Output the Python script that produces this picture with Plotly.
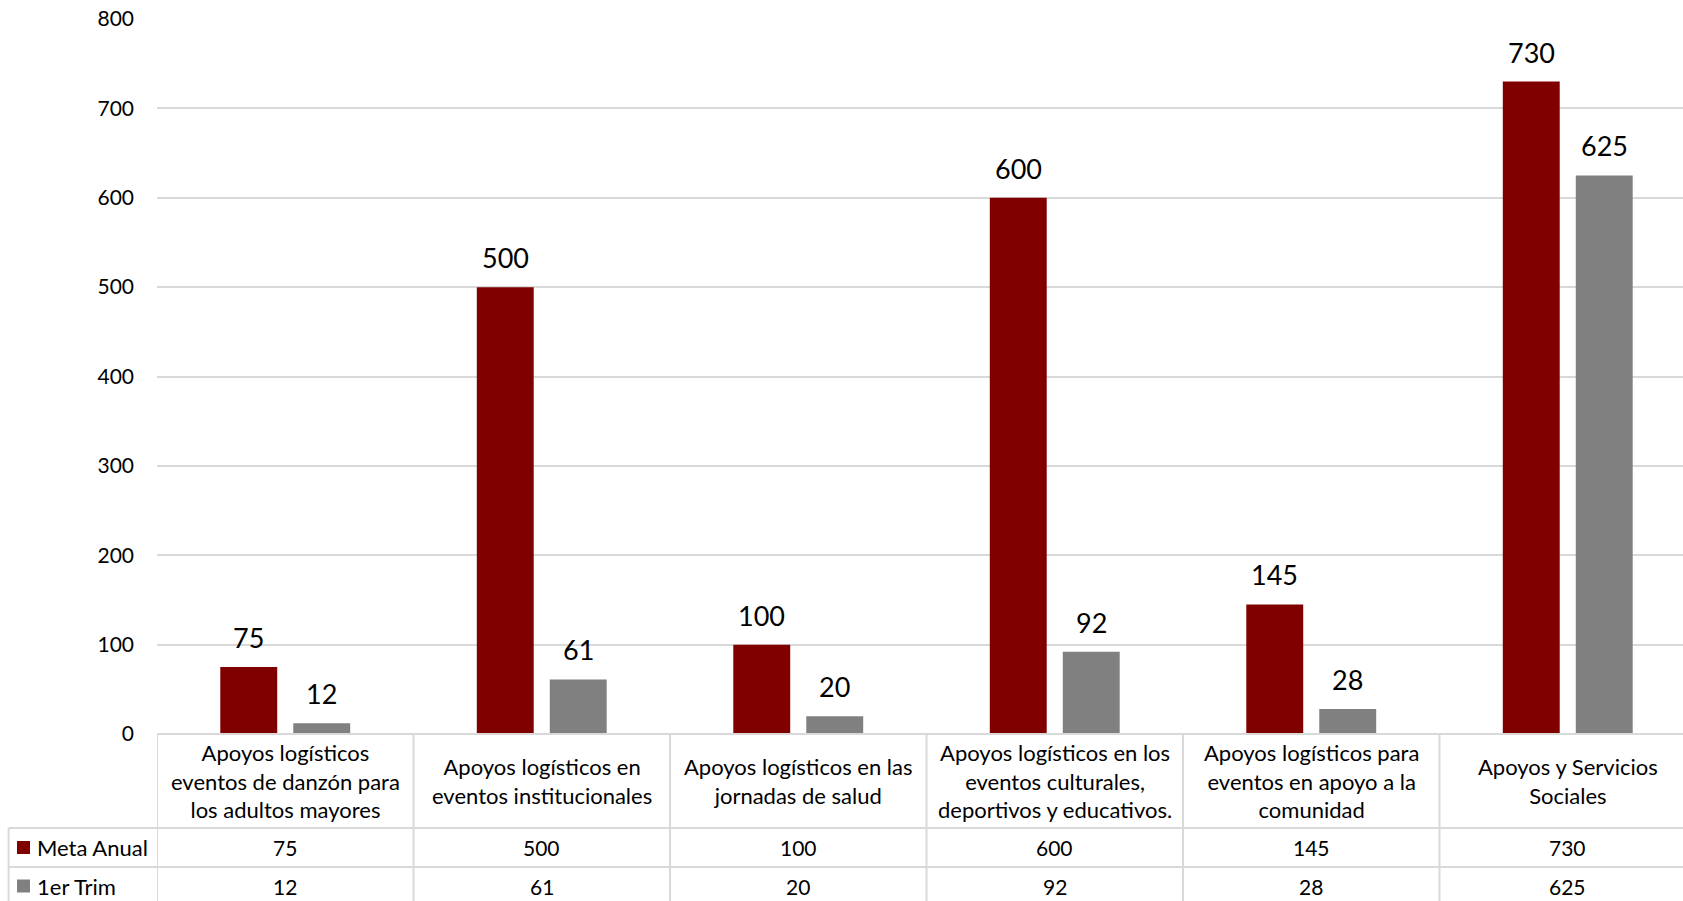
import plotly.graph_objects as go

categories = [
    "Apoyos logísticos<br>eventos de danzón para<br>los adultos mayores",
    "Apoyos logísticos en<br>eventos institucionales",
    "Apoyos logísticos en las<br>jornadas de salud",
    "Apoyos logísticos en los<br>eventos culturales,<br>deportivos y educativos.",
    "Apoyos logísticos para<br>eventos en apoyo a la<br>comunidad",
    "Apoyos y Servicios<br>Sociales",
]
meta_anual = [75, 500, 100, 600, 145, 730]
primer_trim = [12, 61, 20, 92, 28, 625]
series_names = ["Meta Anual", "1er Trim"]
colors = ["#800000", "#808080"]
y_ticks = [0, 100, 200, 300, 400, 500, 600, 700, 800]

W, H = 1683, 901
ML, MT = 157, 19
PLOT_BOTTOM = 734  # pixel of y=0
PAPER_H = H - MT
PAPER_W = W - ML
CAT_W = 256.5
FONT = "Lato, 'Open Sans', sans-serif"
GRID = "#d9d9d9"

def py(pix):
    return (H - pix) / PAPER_H

def px(pix):
    return (pix - ML) / PAPER_W

bargap = 0.431
bargroupgap = 0.22
slot = (1 - bargap) / 2

xs = list(range(len(categories)))
fig = go.Figure()
for name, vals, col in zip(series_names, [meta_anual, primer_trim], colors):
    fig.add_trace(go.Bar(x=xs, y=vals, name=name, marker=dict(color=col, line=dict(width=0)),
                         showlegend=False, hoverinfo="skip"))

# data labels
for k, vals in enumerate([meta_anual, primer_trim]):
    off = (k - 0.5) * slot
    for i, v in enumerate(vals):
        fig.add_annotation(x=i + off, y=v, xref="x", yref="y", text=str(v), showarrow=False,
                           yanchor="bottom", yshift=11,
                           font=dict(family=FONT, size=27, color="#000000"))

shapes = []
line = dict(color=GRID, width=2)
top, r1, r2, bottom = PLOT_BOTTOM, 828, 867, 905
# horizontal table lines
shapes.append(dict(type="line", xref="x", yref="paper", x0=-0.5, x1=6, y0=py(top), y1=py(top), line=line))
for yy in (r1, r2):
    shapes.append(dict(type="line", xref="paper", yref="paper", x0=px(8.6), x1=1.05, y0=py(yy), y1=py(yy), line=line))
# vertical lines
for i in range(len(categories)):
    shapes.append(dict(type="line", xref="x", yref="paper", x0=i - 0.5, x1=i - 0.5, y0=py(top), y1=py(bottom), line=line))
shapes.append(dict(type="line", xref="paper", yref="paper", x0=px(8.6), x1=px(8.6), y0=py(r1), y1=py(bottom), line=line))

# category headers
for i, c in enumerate(categories):
    fig.add_annotation(x=i, y=py((top + r1) / 2), xref="x", yref="paper", text=c, showarrow=False,
                       yanchor="middle", font=dict(family=FONT, size=22, color="#000000"))
# row values
for yy, vals in zip([(r1 + r2) / 2, (r2 + bottom) / 2], [meta_anual, primer_trim]):
    for i, v in enumerate(vals):
        fig.add_annotation(x=i, y=py(yy), xref="x", yref="paper", text=str(v), showarrow=False,
                           yanchor="middle", font=dict(family=FONT, size=21, color="#000000"))
# row labels with legend keys
for yy, name, col in zip([(r1 + r2) / 2, (r2 + bottom) / 2], series_names, colors):
    shapes.append(dict(type="rect", xref="paper", yref="paper", x0=px(17), x1=px(30),
                       y0=py(yy + 6.5), y1=py(yy - 6.5), fillcolor=col, line=dict(width=0)))
    fig.add_annotation(x=px(35), y=py(yy), xref="paper", yref="paper", text=name, showarrow=False,
                       xanchor="left", yanchor="middle", font=dict(family=FONT, size=22, color="#000000"))

fig.update_layout(
    width=W, height=H,
    margin=dict(l=ML, r=0, t=MT, b=0, autoexpand=False),
    paper_bgcolor="white", plot_bgcolor="white",
    barmode="group", bargap=bargap, bargroupgap=bargroupgap,
    shapes=shapes,
    hovermode=False,
    xaxis=dict(range=[-0.5, -0.5 + PAPER_W / CAT_W], showticklabels=False, showgrid=False,
               zeroline=False, showline=False, ticks="", automargin=False),
    yaxis=dict(domain=[py(PLOT_BOTTOM), 1], range=[0, 800], tickvals=y_ticks, showgrid=True,
               gridcolor=GRID, gridwidth=2, zeroline=False, showline=False, ticks="",
               ticklabelstandoff=22, automargin=False,
               tickfont=dict(family=FONT, size=21, color="#000000")),
)

fig.write_html("out.html", config={"displayModeBar": False},
               post_script="document.body.style.margin='0px';document.body.style.overflow='hidden';")
